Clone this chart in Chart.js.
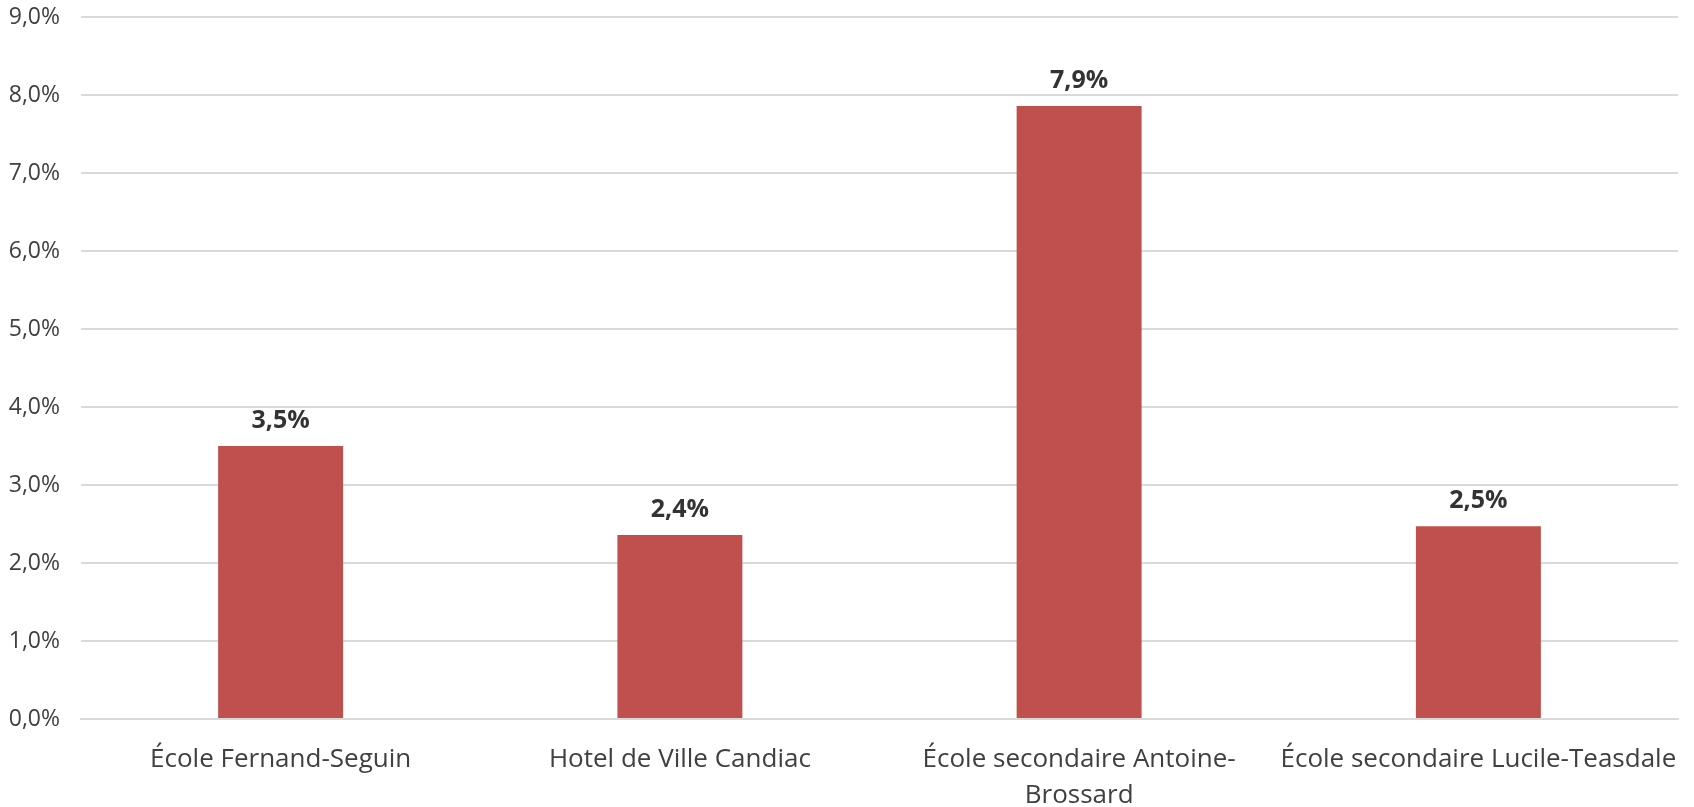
<!DOCTYPE html>
<html>
<head>
<meta charset="utf-8">
<script src="https://cdn.jsdelivr.net/npm/chart.js@4"></script>
<style>
  html, body { margin: 0; padding: 0; background: #fff; }
  #wrap { width: 1694px; height: 807px; }
</style>
</head>
<body>
<div id="wrap"><canvas id="myChart"></canvas></div>
<script>
/* Taux par site */
const labels = [
  "École Fernand-Seguin",
  "Hotel de Ville Candiac",
  ["École secondaire Antoine-", "Brossard"],
  "École secondaire Lucile-Teasdale"
];
const values = [3.5, 2.36, 7.86, 2.47];
const shown = ["3,5%", "2,4%", "7,9%", "2,5%"];

const fmt = (v) => v.toFixed(1).replace(".", ",") + "%";
const police = "'Open Sans', sans-serif";

/* etiquettes au-dessus des barres */
const barLabels = {
  id: "barLabels",
  afterDatasetsDraw(chart) {
    const ctx = chart.ctx;
    const meta = chart.getDatasetMeta(0);
    ctx.save();
    ctx.font = "bold 25px " + police;
    ctx.fillStyle = "#333333";
    ctx.textAlign = "center";
    ctx.textBaseline = "alphabetic";
    meta.data.forEach((bar, i) => {
      ctx.fillText(shown[i], bar.x, bar.y - 18);
    });
    ctx.restore();
  }
};

const data = {
  labels: labels,
  datasets: [
    {
      label: "Taux",
      data: values,
      backgroundColor: "#C0504D",
      borderWidth: 0,
      barPercentage: 0.313,
      categoryPercentage: 1.0,
    },
  ],
};

const config = {
  type: "bar",
  data: data,
  options: {
    responsive: true,
    maintainAspectRatio: false,
    animation: false,
    layout: { padding: { top: 0, right: 16, left: 8, bottom: 0 } },
    plugins: {
      legend: { display: false },
      tooltip: { enabled: false },
    },
    scales: {
      y: {
        min: 0,
        max: 9,
        afterFit: (scale) => {
          scale.width = 73;
          scale.paddingTop = 17;
          scale.paddingBottom = 0;
        },
        ticks: {
          stepSize: 1,
          callback: (v) => fmt(v),
          color: "#404040",
          font: { family: police, size: 23 },
          padding: 21,
        },
        grid: { color: "#D9D9D9", lineWidth: 2, drawTicks: false },
        border: { display: false },
      },
      x: {
        afterFit: (scale) => {
          scale.height = 88;
          scale.paddingLeft = 0;
          scale.paddingRight = 0;
        },
        ticks: {
          color: "#404040",
          font: { family: police, size: 26, lineHeight: 1.41 },
          maxRotation: 0,
          autoSkip: false,
          padding: 22,
        },
        grid: { display: false, drawTicks: false },
        border: { color: "#D9D9D9", width: 2 },
      },
    },
  },
  plugins: [barLabels],
};

var myChart = new Chart(document.getElementById("myChart"), config);
</script>
</body>
</html>
